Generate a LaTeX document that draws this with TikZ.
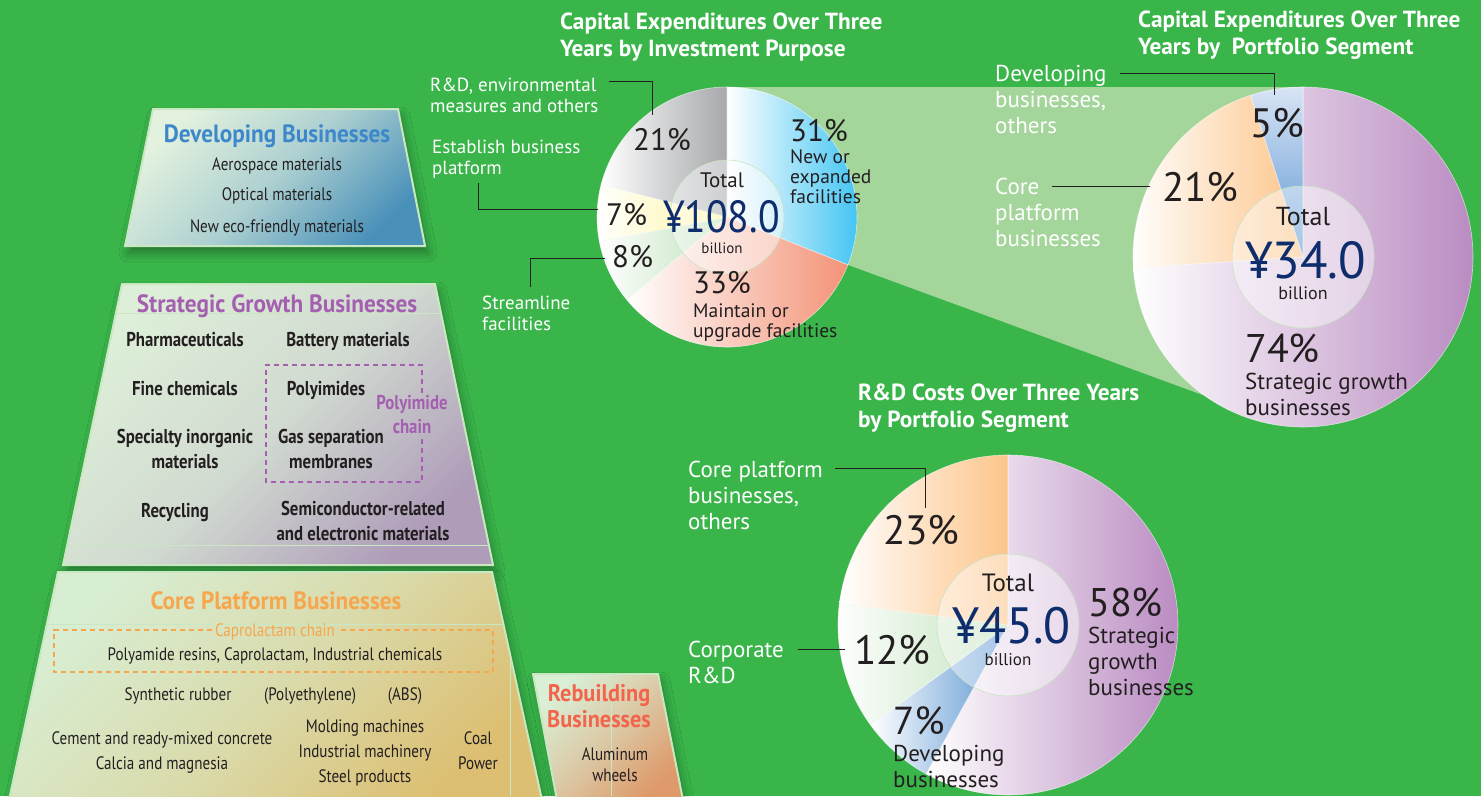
\documentclass[tikz,border=0pt]{standalone}
\usepackage{fontspec}
\setmainfont{PT Sans}
\newfontfamily\condfont[FakeStretch=0.84]{PT Sans}
\newfontfamily\headfont[FakeStretch=0.93]{PT Sans}
\newfontfamily\numfont[FakeStretch=0.88]{PT Sans}
\newfontfamily\bignumfont[FakeStretch=0.97]{PT Sans}
\usetikzlibrary{calc,shadows.blur}

\definecolor{field}{HTML}{39B54A}
\definecolor{band}{HTML}{A4D59B}
\definecolor{ink}{HTML}{231F20}
\definecolor{navy}{HTML}{0D2D6C}
\definecolor{holeline}{HTML}{C9E3C3}
\definecolor{tierline}{HTML}{C9E7C1}
\definecolor{capNew}{HTML}{3CC3F3}
\definecolor{capKeep}{HTML}{F39377}
\definecolor{capSlim}{HTML}{BFE2BA}
\definecolor{capBase}{HTML}{FFF59D}
\definecolor{capRD}{HTML}{A6A8AB}
\definecolor{segGrow}{HTML}{BA8CC2}
\definecolor{segCore}{HTML}{FDC58A}
\definecolor{segDev}{HTML}{5A95D2}
\definecolor{segDevTop}{HTML}{D8E4F5}
\definecolor{rdCorp}{HTML}{C2E3BD}
\definecolor{devA}{HTML}{E3F2DE}
\definecolor{devB}{HTML}{4A91B9}
\definecolor{strA}{HTML}{DDEFD8}
\definecolor{strB}{HTML}{AE9CB9}
\definecolor{coreA}{HTML}{D8EED3}
\definecolor{coreB}{HTML}{DCBF72}
\definecolor{rebA}{HTML}{D9EFD6}
\definecolor{rebB}{HTML}{DE9A6A}
\definecolor{devHead}{HTML}{3D88CA}
\definecolor{strHead}{HTML}{A55FB1}
\definecolor{coreHead}{HTML}{F7A64D}
\definecolor{rebHead}{HTML}{F2654C}

\tikzset{
  lbl/.style={text=white, align=left, anchor=base west, inner sep=0pt, font=\fontsize{19}{21}\selectfont},
  lblbig/.style={lbl, font=\fontsize{23}{26}\selectfont},
  ttl/.style={lbl, font=\bfseries\fontsize{23.3}{27}\selectfont},
  pct/.style={text=ink, anchor=base west, inner sep=0pt, font=\fontsize{31}{31}\selectfont},
  pctbig/.style={pct, font=\fontsize{41}{41}\selectfont},
  sub/.style={text=ink, align=left, anchor=base west, inner sep=0pt, font=\fontsize{19.5}{20}\selectfont},
  subbig/.style={sub, font=\fontsize{23}{26}\selectfont},
  total/.style={text=ink, anchor=base, inner sep=0pt},
  yen/.style={text=navy, anchor=base west, inner sep=0pt},
  leader/.style={draw=ink, line width=1pt},
  slice/.style={draw=white, draw opacity=.6, line width=.6pt},
  hole/.style={fill=white, fill opacity=.45, draw=holeline, line width=.6pt},
  tier/.style n args={3}{top color=#1, bottom color=#3, middle color=#2, shading angle=45,
    draw=tierline, line width=2pt,
    blur shadow={shadow xshift=3pt, shadow yshift=-7pt, shadow blur radius=9pt, shadow opacity=35}},
  tierhead/.style={anchor=base, inner sep=0pt, align=center, font=\headfont\bfseries\fontsize{25}{26}\selectfont},
  tieritem/.style={anchor=base, inner sep=0pt, align=center, text=ink, font=\condfont\fontsize{18}{25}\selectfont},
  tierbold/.style={tieritem, font=\condfont\bfseries\fontsize{20}{24.5}\selectfont},
  tierrule/.style={draw=tierline, line width=.6pt},
  chain/.style={line width=1.6pt, dash pattern=on 5pt off 4pt},
}

\begin{document}
\begin{tikzpicture}[x=1pt, y=-1pt]
\useasboundingbox (0,0) rectangle (1481,796);
\fill[field] (0,0) rectangle (1481,796);

\coordinate (capA) at (727,217);
\coordinate (capB) at (1303,257);
\coordinate (rdC) at (1008,625);

% zoom band from the 31% slice to the segment pie
\fill[band] ($(capA)+(0,-130)$) -- ($(capB)+(0,-170)$) -- ($(capB)+(-43,159)$) -- ($(capA)+(21.6:130)$) -- cycle;

% business tiers
\shade[tier={devA}{devA!65!devB}{devB}] (153,109) -- (398,109) -- (425,246) -- (125,246) -- cycle;
\shade[tier={strA}{strA!75!strB}{strB}] (122,284) -- (435,284) -- (493,565) -- (63,565) -- cycle;
\shade[tier={coreA}{coreA!60!coreB}{coreB}] (58,572) -- (492,572) -- (542,800) -- (9,800) -- cycle;
\shade[tier={rebA}{rebA!55!rebB}{rebB}] (533,674) -- (658,674) -- (683,800) -- (557,800) -- cycle;
\draw[tierrule] (116,313) -- (441,313);
\draw[tierrule] (67,545) -- (489,545);
\draw[tierrule] (47,624) -- (503,624);
\draw[tierrule] (510,652) -- (510,796);
\draw[tierrule] (611,676) -- (611,796);

\node[tierhead, text=devHead] (devHd) at (277,142) {Developing Businesses};
\node[tieritem] (devAero) at (277,170) {Aerospace materials};
\node[tieritem] (devOpt) at (277,200) {Optical materials};
\node[tieritem] (devEco) at (277,232) {New eco-friendly materials};

\node[tierhead, text=strHead] (strHd) at (277,312) {Strategic Growth Businesses};
\node[tierbold] (strPharma) at (185,346) {Pharmaceuticals};
\node[tierbold] (strBatt) at (348,346) {Battery materials};
\node[tierbold] (strFine) at (185,395) {Fine chemicals};
\node[tierbold] (strPI) at (326,395) {Polyimides};
\node[tierbold] (strInorg) at (185,468) {Specialty inorganic\\materials};
\node[tierbold] (strGas) at (331,468) {Gas separation\\membranes};
\node[tierbold] (strRecyc) at (175,517) {Recycling};
\node[tierbold] (strSemi) at (363,540) {Semiconductor-related\\and electronic materials};
\node[tierbold, text=strHead, font=\condfont\bfseries\fontsize{20}{24}\selectfont] (polyChain) at (412,433) {Polyimide\\chain};
\coordinate (polyNE) at (422,365);
\coordinate (polySW) at (266,482);
\draw[chain, strHead] ([yshift=2pt]polyChain.north -| polyNE) -- (polyNE) -| (polySW) -| ([yshift=-2pt]polyChain.south -| polyNE);

\node[tierhead, text=coreHead] (coreHd) at (276,609) {Core Platform Businesses};
\node[tieritem, text=coreHead] (capro) at (275,636) {Caprolactam chain};
\node[tieritem] (coreNylon) at (275,660) {Polyamide resins, Caprolactam, Industrial chemicals};
\coordinate (caproNW) at (54,630);
\coordinate (caproSE) at (493,672);
\draw[chain, coreHead] ([xshift=-3pt]capro.west |- caproNW) -- (caproNW) |- (caproSE) |- ([xshift=3pt]capro.east |- caproNW);
\node[tieritem] (coreRub) at (178,700) {Synthetic rubber};
\node[tieritem] (corePE) at (310,700) {(Polyethylene)};
\node[tieritem] (coreABS) at (405,700) {(ABS)};
\node[tieritem] (coreCem) at (162,769) {Cement and ready-mixed concrete\\Calcia and magnesia};
\node[tieritem] (coreMach) at (365,782) {Molding machines\\Industrial machinery\\Steel products};
\node[tieritem] (coreCoal) at (478,769) {Coal\\Power};

\node[tierhead, text=rebHead, font=\headfont\bfseries\fontsize{24}{26}\selectfont] (rebHd) at (599,727) {Rebuilding\\Businesses};
\node[tieritem, font=\condfont\fontsize{18}{21}\selectfont] (rebAlu) at (615,781) {Aluminum\\wheels};

% capex by purpose
\foreach \a/\b/\c in {-90/21.6/capNew, 21.6/140.4/capKeep, 140.4/169.2/capSlim, 169.2/194.4/capBase, 194.4/270/capRD}
  \shade[slice, left color=white, right color=\c] (capA) -- +(\a:130) arc[start angle=\a, end angle=\b, radius=130] -- cycle;
\path[hole] (capA) circle[radius=57];

% capex by segment
\foreach \a/\b/\c in {-90/176.4/segGrow, 176.4/252/segCore}
  \shade[slice, left color=white, right color=\c] (capB) -- +(\a:170) arc[start angle=\a, end angle=\b, radius=170] -- cycle;
\shade[slice, top color=segDevTop, bottom color=segDev] (capB) -- +(252:170) arc[start angle=252, end angle=270, radius=170] -- cycle;
\path[hole] (capB) circle[radius=71];

% R&D by segment
\foreach \a/\b/\c in {-90/118.8/segGrow, 118.8/144/segDev, 144/187.2/rdCorp, 187.2/270/segCore}
  \shade[slice, left color=white, right color=\c] (rdC) -- +(\a:170) arc[start angle=\a, end angle=\b, radius=170] -- cycle;
\path[hole] (rdC) circle[radius=71];

% titles
\node[ttl] (capPurposeTtl) at (560,56) {Capital Expenditures Over Three\\Years by Investment Purpose};
\node[ttl] (capSegTtl) at (1138,54) {Capital Expenditures Over Three\\Years by\ \ Portfolio Segment};
\node[ttl] (rdSegTtl) at (858,427) {R\&D Costs Over Three Years\\by Portfolio Segment};

% pie 1 texts
\node[lbl] (capRDLbl) at (430,112) {R\&D, environmental\\measures and others};
\node[lbl] (capBaseLbl) at (432,174) {Establish business\\platform};
\node[lbl] (capSlimLbl) at (482,330) {Streamline\\facilities};
\node[pct] (capNewPct) at (790,141) {31\%};
\node[sub] (capNewSub) at (790,203) {New or\\expanded\\facilities};
\node[pct] (capRDPct) at (633,150) {21\%};
\node[pct] (capBasePct) at (606,225) {7\%};
\node[pct] (capSlimPct) at (612,267) {8\%};
\node[pct] (capKeepPct) at (693,293) {33\%};
\node[sub] (capKeepSub) at (693,337) {Maintain or\\upgrade facilities};
\node[total, font=\fontsize{21}{21}\selectfont] (capATot) at (722,187) {Total};
\node[yen, font=\numfont\fontsize{45}{45}\selectfont] (capAYen) at (663,232) {¥108.0};
\node[total, font=\fontsize{15}{15}\selectfont] (capABil) at (722,253) {billion};
\draw[leader] ([xshift=-10pt, yshift=13pt]capRDPct.north) -- ++(0,-33) -- ++(-43,0);
\draw[leader] ([xshift=-8pt, yshift=5pt]capBasePct.west) -- ++(-120,0) -- ++(0,-26);
\draw[leader] ([xshift=-7pt, yshift=-2pt]capSlimPct.west) -- ++(-75,0) -- ++(0,29);

% pie 2 texts
\node[lblbig] (capDevLbl) at (995,133) {Developing\\businesses,\\others};
\node[lblbig] (capCoreLbl) at (995,246) {Core\\platform\\businesses};
\node[pctbig] (capDevPct) at (1250,137) {5\%};
\node[pctbig] (capCorePct) at (1162,201) {21\%};
\node[pctbig, font=\fontsize{40}{40}\selectfont] (capGrowPct) at (1245,362) {74\%};
\node[subbig] (capGrowSub) at (1245,415) {Strategic growth\\businesses};
\node[total, font=\fontsize{26}{26}\selectfont] (capBTot) at (1303,225) {Total};
\node[yen, font=\bignumfont\fontsize{52}{52}\selectfont] (capBYen) at (1245,278) {¥34.0};
\node[total, font=\fontsize{18}{18}\selectfont] (capBBil) at (1303,299) {billion};
\draw[leader] ([xshift=-3pt, yshift=13pt]capDevPct.north) -- ++(0,-21) -- ++(-154,0);
\draw[leader] ([xshift=-12pt]capCorePct.west) -- ++(-98,0);

% pie 3 texts
\node[lblbig] (rdCoreLbl) at (688,529) {Core platform\\businesses,\\others};
\node[lblbig] (rdCorpLbl) at (688,683) {Corporate\\R\&D};
\node[pctbig] (rdCorePct) at (883,544) {23\%};
\node[pctbig] (rdCorpPct) at (854,664) {12\%};
\node[pctbig, font=\fontsize{39}{39}\selectfont] (rdDevPct) at (893,734) {7\%};
\node[subbig] (rdDevSub) at (893,787) {Developing\\businesses};
\node[pctbig, font=\fontsize{40}{40}\selectfont] (rdGrowPct) at (1088,616) {58\%};
\node[subbig] (rdGrowSub) at (1088,695) {Strategic\\growth\\businesses};
\node[total, font=\fontsize{25}{25}\selectfont] (rdTot) at (1008,591) {Total};
\node[yen, font=\bignumfont\fontsize{51}{51}\selectfont] (rdYen) at (952,643) {¥45.0};
\node[total, font=\fontsize{17}{17}\selectfont] (rdBil) at (1008,665) {billion};
\draw[leader] ([xshift=4pt, yshift=7pt]rdCorePct.north) -- ++(0,-39) -- ++(-90,0);
\draw[leader] ([xshift=-9pt]rdCorpPct.west) -- ++(-47,0);
\end{tikzpicture}
\end{document}
